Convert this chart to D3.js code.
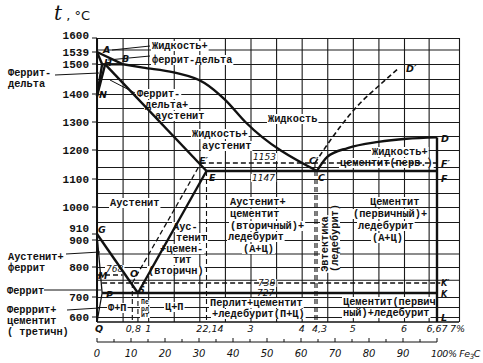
<!DOCTYPE html>
<html>
<head>
<meta charset="utf-8">
<script src="https://cdn.jsdelivr.net/npm/d3@7"></script>
<style>
  body { margin: 0; background: #fff; }
  svg text { font-family: "Liberation Mono", "DejaVu Sans Mono", monospace; font-weight: bold; font-size: 10.3px; fill: #111; }
  svg text.num { font-family: "DejaVu Sans", sans-serif; font-style: italic; font-weight: normal; font-size: 10px; }
  svg text.pt { font-family: "DejaVu Sans", sans-serif; font-style: italic; font-weight: bold; font-size: 9.5px; }
  .grid line { stroke: #1a1a1a; stroke-width: 1.1px; }
  .grid path { display: none; }
</style>
</head>
<body>
<div id="chart"></div>
<script>
// Fe - Fe3C phase diagram (russian textbook style)

// Axis values
const tempTicks = [1600, 1539, 1500, 1400, 1300, 1200, 1100, 1000, 910, 900, 800, 700, 600];
const carbonTicks = [0.8, 1, 2, 2.14, 3, 4, 4.3, 5, 6, 6.67, 7];
const carbonLabels = ['0,8', '1', '2', '2,14', '3', '4', '4,3', '5', '6', '6,67', '7%'];
const fe3cTicks = [0, 10, 20, 30, 40, 50, 60, 70, 80, 90];
const gridCarbon = [0, 0.5, 1, 1.5, 2, 2.5, 3, 3.5, 4, 4.5, 5, 5.5, 6, 6.5, 7];
const gridTemp = [600, 650, 700, 750, 800, 850, 900, 950, 1000, 1050, 1100, 1150, 1200, 1250, 1300, 1350, 1400, 1450, 1500, 1550, 1600];

// Solid lines (metastable system), [% C, t °C]
const lineAB = [[0, 1539], [0.51, 1499]];
const lineBC = [[0.51, 1499], [0.9, 1488], [1.5, 1472], [2.1, 1437], [2.5, 1380], [2.9, 1300], [4.3, 1147]];
const lineCD = [[4.3, 1147], [4.5, 1175], [4.9, 1207], [5.5, 1229], [6.05, 1240], [6.67, 1245]];
const lineAH = [[0, 1539], [0.1, 1499]];
const lineHB = [[0.1, 1499], [0.51, 1499]];
const lineHN = [[0.1, 1499], [0, 1392]];
const lineJN = [[0.16, 1499], [0, 1392]];
const lineJE = [[0.16, 1499], [2.14, 1147]];
const lineECF = [[2.14, 1147], [6.67, 1147]];
const lineGS = [[0, 910], [0.8, 727]];
const lineSE = [[0.8, 727], [2.14, 1147]];
const linePSK = [[0.1, 727], [6.67, 727]];
const lineDL = [[6.67, 1245], [6.67, 580]];
const lineGP = [[0, 910], [0.1, 727]];
const linePQ = [[0.1, 727], [0, 580]];

// Dashed lines (stable system, graphite) and Curie point
const dashEF = [[2.03, 1153], [6.72, 1153]];
const dashSE = [[0.69, 738], [2.03, 1153]];
const dashSK = [[0.1, 738], [6.72, 738]];
const dashCD = [[4.26, 1153], [4.7, 1270], [4.9, 1317], [5.2, 1378], [5.46, 1420], [5.9, 1487]];
const dashMO = [[0, 768], [0.5, 768]];
const dashDrops = [[0.69, 738], [0.8, 727], [2.14, 1147], [4.26, 1153], [4.3, 1147]];

const W = 483, H = 363;

// the printed diagram is not to scale (1147/1153 and 727/738 pulled apart),
// so the temperature scale is piecewise, fitted to the printed grid
const y = d3.scaleLinear()
  .domain([580, 600, 700, 727, 738, 768, 800, 900, 910, 1000, 1100, 1147, 1153, 1200, 1300, 1400, 1500, 1539, 1600])
  .range([322, 317, 297, 293, 283, 275, 267, 240, 234, 207, 179, 171, 163, 150, 122, 94, 64, 52, 38]);
const x = d3.scaleLinear().domain([0, 6, 6.67, 7]).range([97, 404, 437, 459]);
const xFe3C = d3.scaleLinear().domain([0, 100]).range([x(0), x(6.67)]);

const svg = d3.select('#chart').append('svg')
  .attr('width', W).attr('height', H);

const gridG = svg.append('g');
const bgG = svg.append('g');
const lineG = svg.append('g');
const textG = svg.append('g');

// grid, drawn with axes whose ticks span the plot
gridG.append('g')
  .attr('class', 'grid')
  .attr('transform', `translate(0,${y(580)})`)
  .call(d3.axisBottom(x).tickValues(gridCarbon).tickSize(-(y(580) - y(1600))).tickFormat(''));
gridG.append('g')
  .attr('class', 'grid')
  .attr('transform', `translate(${x(0)},0)`)
  .call(d3.axisLeft(y).tickValues(gridTemp).tickSize(-(x(7) - x(0))).tickFormat(''));
gridG.append('line').attr('x1', x(0)).attr('x2', x(7)).attr('y1', y(580)).attr('y2', y(580))
  .style('stroke', '#111').style('stroke-width', '1.5px');
gridG.append('line').attr('x1', x(0)).attr('x2', x(0)).attr('y1', y(580)).attr('y2', y(1600))
  .style('stroke', '#111').style('stroke-width', '2px');

const line = d3.line().x(d => x(d[0])).y(d => y(d[1]));
const curve = d3.line().x(d => x(d[0])).y(d => y(d[1])).curve(d3.curveMonotoneX);

function draw(pts, w, dashed, gen) {
  lineG.append('path')
    .attr('d', (gen || line)(pts))
    .attr('fill', 'none')
    .attr('stroke', '#111')
    .attr('stroke-width', w)
    .attr('stroke-dasharray', dashed ? '5,3' : null);
}

[lineAB, lineAH, lineHB, lineHN, lineJN, lineJE, lineECF, lineGS, lineSE, linePSK, lineDL].forEach(l => draw(l, 2.4));
draw(lineBC, 2.4, false, curve);
draw(lineCD, 2.4, false, curve);
draw(lineGP, 1.3);
draw(linePQ, 1.3);

[dashEF, dashSE, dashSK, dashMO].forEach(l => draw(l, 1.3, true));
draw(dashCD, 1.6, true, curve);
dashDrops.forEach(d => draw([d, [d[0], 580]], 1.1, true));

// temperature axis
svg.selectAll('.tt').data(tempTicks).enter().append('line')
  .attr('x1', x(0) - 5).attr('x2', x(0))
  .attr('y1', d => y(d)).attr('y2', d => y(d))
  .attr('stroke', '#111').attr('stroke-width', 1);
svg.selectAll('.tl').data(tempTicks).enter().append('text')
  .attr('x', 89)
  .attr('y', d => y(d) + (d === 910 ? -2 : d === 1600 ? 1 : 4))
  .attr('text-anchor', 'end')
  .style('font-size', '11px')
  .text(d => d);

const title = svg.append('text').attr('x', 54).attr('y', 20);
title.append('tspan').text('t').style('font-family', '"DejaVu Serif", serif').style('font-style', 'italic')
  .style('font-weight', 'normal').style('font-size', '20px');
title.append('tspan').text(' , °C').style('font-family', '"DejaVu Sans", sans-serif')
  .style('font-weight', 'normal').style('font-size', '13px');

// carbon axis (some labels shifted off their tick so neighbours do not collide)
const carbonAnchor = { 0.8: 'end', 2.14: 'start', 4.3: 'start', 7: 'start' };
const carbonShift = { 0.8: 3, 2.14: -4, 4.3: -5, 7: -9 };
svg.selectAll('.cl').data(carbonTicks).enter().append('text')
  .attr('class', 'num')
  .attr('x', d => x(d) + (carbonShift[d] || 0))
  .attr('y', 332)
  .attr('text-anchor', d => carbonAnchor[d] || 'middle')
  .style('font-size', '9.5px')
  .text((d, i) => carbonLabels[i]);

// Fe3C axis
svg.append('line').attr('x1', xFe3C(0)).attr('x2', xFe3C(100)).attr('y1', 342).attr('y2', 342)
  .attr('stroke', '#111').attr('stroke-width', 1);
svg.selectAll('.ft').data(d3.range(0, 101, 5)).enter().append('line')
  .attr('x1', d => xFe3C(d)).attr('x2', d => xFe3C(d))
  .attr('y1', d => d % 10 ? 339 : 338).attr('y2', 342)
  .attr('stroke', '#111').attr('stroke-width', 1);
svg.selectAll('.fl').data(fe3cTicks).enter().append('text')
  .attr('class', 'num')
  .attr('x', d => xFe3C(d))
  .attr('y', 357)
  .attr('text-anchor', 'middle')
  .text(d => d);
svg.append('text').attr('class', 'num').attr('x', xFe3C(100) - 6).attr('y', 357)
  .style('font-size', '9.5px').style('letter-spacing', '-0.4px')
  .html('100% Fe<tspan dy="2" style="font-size:7px">3</tspan><tspan dy="-2">C</tspan>');

// region labels: [x, baseline, text]
const regionText = [
  [152, 49, 'Жидкость+'], [152, 63, 'феррит-дельта'],
  [137, 97, 'Феррит-'], [145, 108, 'дельта+'], [155, 119, 'аустенит'],
  [268, 122, 'Жидкость'],
  [192, 137, 'Жидкость+'], [202, 149, 'аустенит'],
  [372, 155, 'Жидкость+'], [340, 166, 'цементит(перв.)'],
  [110, 206, 'Аустенит'],
  [173, 230, 'Аус-'], [176, 241, 'тенит'], [160, 252, '+цемен-'], [173, 263, 'тит'], [148, 274, '(вторичн)'],
  [230, 205, 'Аустенит+'], [230, 217, 'цементит'], [230, 229, '(вторичный)+'], [228, 240, 'ледебурит'], [243, 252, '(А+Ц)'],
  [370, 205, 'Цементит'], [353, 217, '(первичный)+'], [358, 229, 'ледебурит'], [372, 241, '(А+Ц)'],
  [210, 306, 'Перлит+цементит'], [212, 317, '+ледебурит(П+Ц)'],
  [343, 305, 'Цементит(первич'], [343, 316, 'ный)+ледебурит'],
  [165, 310, 'Ц+П'], [108, 311, 'Ф+П'],
  [8, 76, 'Феррит-'], [8, 87, 'дельта'],
  [8, 260, 'Аустенит+'], [8, 271, 'феррит'],
  [7, 294, 'Феррит'],
  [7, 313, 'Ферррит+'], [7, 324, 'цементит'], [7, 335, '( третичн)']
];
textG.selectAll('.rt').data(regionText).enter().append('text')
  .attr('class', 'rt')
  .attr('x', d => d[0]).attr('y', d => d[1])
  .text(d => d[2]);

// tiny stacked label between 0.8 and 1 % C
[['Пе', 304], ['рл', 310.5], ['ит', 317]].forEach(d => {
  textG.append('text').attr('class', 'rt').attr('x', 141).attr('y', d[1])
    .style('font-size', '6.5px').text(d[0]);
});

// vertical label for the eutectic
[['Эвтектика', 328, 244], ['(ледебурит)', 338, 238]].forEach(d => {
  textG.append('text').attr('class', 'rt')
    .attr('x', d[1]).attr('y', d[2])
    .attr('text-anchor', 'middle')
    .attr('transform', `rotate(-90,${d[1]},${d[2]})`)
    .text(d[0]);
});

// isotherm values
[['1153', 253, 160], ['1147', 252, 181], ['738', 258, 286], ['727', 257, 296], ['768', 106, 272]].forEach(d => {
  textG.append('text').attr('class', 'num rt').attr('x', d[1]).attr('y', d[2])
    .style('font-size', '9px').text(d[0]);
});

// point letters
const pointLabels = [
  ['A', 103, 53], ['B', 122, 62], ['H', 104, 66], ['N', 99, 98],
  ['E′', 199, 164], ['E', 209, 181], ['C′', 309, 164], ['C', 318, 181],
  ['D', 441, 142], ['F′', 441, 167], ['F', 441, 182], ['D′', 406, 72],
  ['G', 98, 233], ['M', 98, 279], ['O', 130, 277], ['P', 106, 298], ['S', 139, 293],
  ['K′', 441, 286], ['K', 441, 297], ['L', 441, 321], ['Q', 95, 332]
];
textG.selectAll('.pl').data(pointLabels).enter().append('text')
  .attr('class', 'pt')
  .attr('x', d => d[1]).attr('y', d => d[2])
  .style('font-size', d => 'SKK′'.includes(d[0][0]) ? '8px' : null)
  .text(d => d[0]);

// leader lines
const leaders = [
  [[112, 50], [150, 46]], [[108, 60], [150, 56]], [[55, 75], [99, 73]], [[110, 80], [135, 93]],
  [[66, 254], [100, 252]], [[44, 290], [101, 290]], [[67, 310], [99, 308]]
];
leaders.forEach(l => {
  lineG.append('line').attr('x1', l[0][0]).attr('y1', l[0][1]).attr('x2', l[1][0]).attr('y2', l[1][1])
    .attr('stroke', '#111').attr('stroke-width', 1);
});

// white boxes behind labels so grid lines stop at the text
textG.selectAll('text.rt').each(function () {
  const b = this.getBBox();
  const t = this.getAttribute('transform');
  bgG.append('rect')
    .attr('x', b.x - 1).attr('y', b.y + 1).attr('width', b.width + 2).attr('height', Math.max(0, b.height - 2))
    .attr('transform', t)
    .attr('fill', '#fff');
});
</script>
</body>
</html>
